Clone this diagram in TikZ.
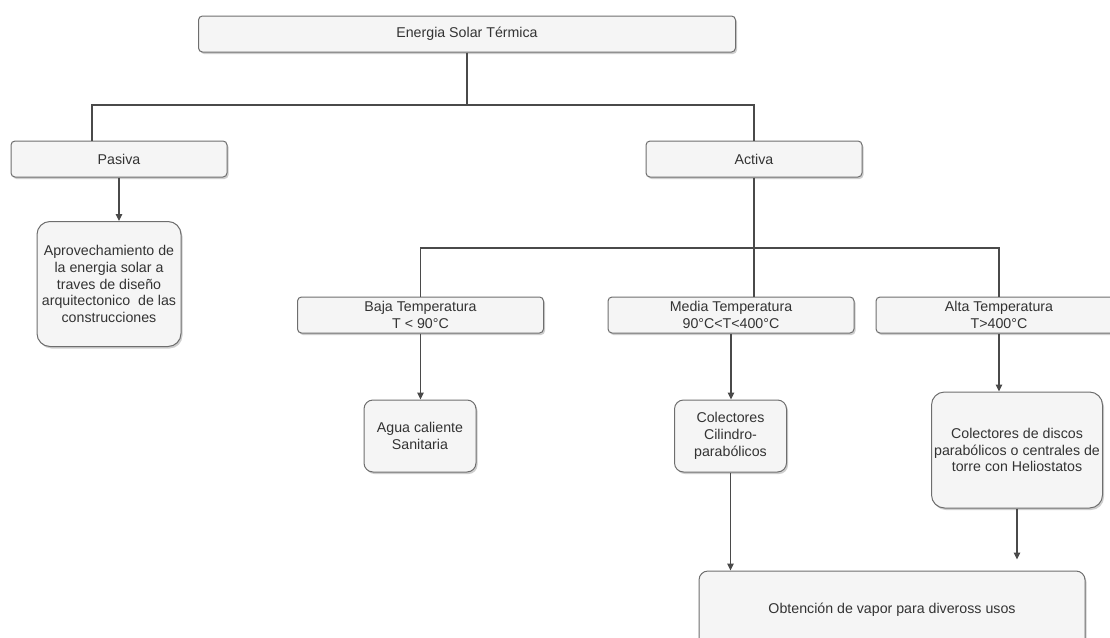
\documentclass[tikz,border=0pt]{standalone}
\usepackage{fontspec}
\setmainfont{Liberation Sans}
\usetikzlibrary{shapes,shadows,arrows.meta}
\definecolor{boxfill}{HTML}{F5F5F5}
\definecolor{boxline}{HTML}{6E6E6E}
\definecolor{edgeline}{HTML}{4A4A4A}
\definecolor{textgray}{HTML}{333333}
\tikzstyle{node_box} = [rectangle, draw=boxline, fill=boxfill, line width=1pt, rounded corners=4pt, inner sep=0pt, align=center, text=textgray, font=\fontsize{14.2}{16.8}\selectfont, drop shadow={shadow xshift=1.5pt, shadow yshift=-2pt, opacity=0.35, fill=black!55}]
\tikzstyle{node_round} = [node_box, rounded corners=9pt]
\tikzstyle{node_tall} = [node_box, rounded corners=13pt]
\tikzstyle{edge_tree} = [draw=edgeline, line width=1.2pt]
\tikzstyle{edge_arrow} = [edge_tree, -{Triangle[length=7pt,width=6.5pt]}]

\begin{document}
\begin{tikzpicture}[x=1pt,y=-1pt]
\useasboundingbox (0,0) rectangle (1110,637);
\clip (0,0) rectangle (1110,637);
\def\h{36pt}
\def\w{216pt}
\def\wt{246pt}
\node (E) at (467,34) [node_box, minimum width=537pt, minimum height=\h] {Energia Solar Térmica};
\node (P) at (119,159) [node_box, minimum width=\w, minimum height=\h] {Pasiva};
\node (A) at (754,159) [node_box, minimum width=\w, minimum height=\h] {Activa};
\node (AP) at (109,284) [node_tall, minimum width=144pt, minimum height=125pt] {Aprovechamiento de\\la energia solar a\\traves de diseño\\arquitectonico\ \ de las\\construcciones};
\node (B) at (420.5,315) [node_box, minimum width=\wt, minimum height=\h] {Baja Temperatura\\T < 90°C};
\node (M) at (731,315) [node_box, minimum width=\wt, minimum height=\h] {Media Temperatura\\90°C<T<400°C};
\node (T) at (999,315) [node_box, minimum width=\wt, minimum height=\h] {Alta Temperatura\\T>400°C};
\node (AG) at (420,436) [node_round, minimum width=112pt, minimum height=72pt] {Agua caliente\\Sanitaria};
\node (CC) at (730.5,436) [node_round, minimum width=112pt, minimum height=72pt] {Colectores\\Cilindro-\\parabólicos};
\node (CD) at (1017,450) [node_tall, minimum width=171pt, minimum height=116pt] {Colectores de discos\\parabólicos o centrales de\\torre con Heliostatos};
\node (V) at (892,610) [node_round, minimum width=386pt, minimum height=78pt] {Obtención de vapor para diveross usos};

\coordinate (J0) at (92,105);
\coordinate (J1) at (754,248);
\draw[edge_tree] (E.south) -- (E.south |- J0);
\draw[edge_tree] (J0 |- P.north) -- (J0) -- (J0 -| A.north) -- (A.north);
\draw[edge_tree] (A.south) -- (A.south |- M.north);
\draw[edge_tree] (B.north) |- (J1) -| (T.north);

\draw[edge_arrow] (P.south) -- (P.south |- AP.north);
\draw[edge_arrow] (B.south) -- (B.south |- AG.north);
\draw[edge_arrow] (M.south) -- (M.south |- CC.north);
\draw[edge_arrow] (T.south) -- (T.south |- CD.north);
\draw[edge_arrow] (CC.south) -- (CC.south |- V.north);
\draw[edge_arrow, shorten >=11pt] (CD.south) -- (CD.south |- V.north);
\end{tikzpicture}
\end{document}
